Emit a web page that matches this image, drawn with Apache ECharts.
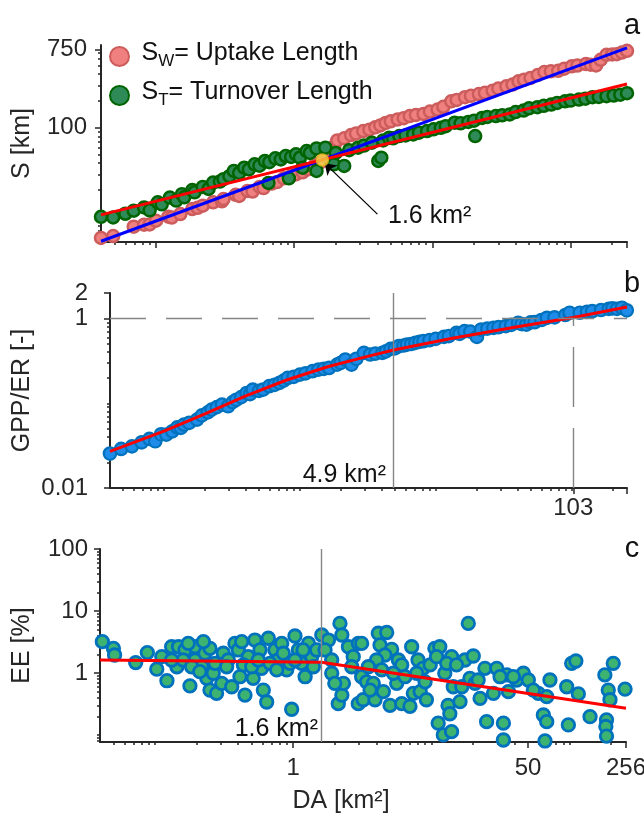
<!DOCTYPE html>
<html>
<head>
<meta charset="utf-8">
<script src="https://cdn.jsdelivr.net/npm/echarts@6/dist/echarts.min.js"></script>
<style>
  html, body { margin: 0; padding: 0; background: #fff; }
  #chart { width: 644px; height: 818px; }
</style>
</head>
<body>
<div id="chart"></div>
<script>
// shared DA axis (km2), log scale
const daRange = [0.04, 256];
const daMinor = [0.05,0.06,0.07,0.08,0.09,0.1,0.2,0.3,0.4,0.5,0.6,0.7,0.8,0.9,1,2,3,4,5,6,7,8,9,10,20,30,40,50,60,70,80,90,100,200];
const daTicksA = [0.1, 1, 10, 100, 256];
const daTicksB = [103, 256];
const daLabelsB = [103];
const daLabelsC = [1, 50, 256];

// panel a: S [km]
const sRange = [5.2, 850];
const sLabels = [100, 750];
const sMinor = [6,7,8,9,10,20,30,40,50,60,70,80,90,200,300,400,500,600,700];
// panel b: GPP/ER
const gRange = [0.01, 2];
const gLabels = [0.01, 1, 2];
const gMinor = [0.02,0.03,0.04,0.05,0.06,0.07,0.08,0.09,0.1,0.2,0.3,0.4,0.5,0.6,0.7,0.8,0.9];
// panel c: EE [%]
const eRange = [0.077, 100];
const eLabels = [1, 10, 100];
const eMinor = [0.08,0.09,0.1,0.2,0.3,0.4,0.5,0.6,0.7,0.8,0.9,2,3,4,5,6,7,8,9,20,30,40,50,60,70,80,90];

// S_W uptake length [DA, S]
const sw = [[0.040,5.77],[0.049,6.07],[0.069,7.72],[0.082,8.13],[0.09,8.2],[0.100,9.02],[0.123,10.0],[0.13,9.8],[0.150,10.7],[0.183,12.2],[0.2,12.6],[0.218,13.3],[0.259,14.5],[0.3,14.9],[0.308,15.8],[0.377,17.6],[0.4,17.1],[0.460,19.5],[0.5,19.2],[0.563,21.6],[0.6,21.0],[0.689,23.6],[0.75,24.5],[0.841,27.0],[0.95,28.5],[1.03,30.0],[1.15,31.5],[1.26,34.1],[1.4,37.5],[1.54,40.5],[1.75,48],[1.85,55],[1.95,62],[2.05,71.9],[2.3,76],[2.58,82.6],[2.8,86],[3.16,91.6],[3.5,95],[3.86,101],[4.2,106],[4.59,113],[5.0,118],[5.61,124],[6.2,128],[6.86,135],[7.6,139],[8.63,143],[9.6,152],[10.9,160],[12,172],[13.7,198],[15,205],[17.2,220],[19,228],[21.7,239],[24,247],[27.3,261],[30,275],[34.3,292],[38,305],[42,332],[46,345],[51.3,362],[58,392],[64.6,422],[72,430],[81.3,436],[90,460],[102,489],[112,500],[129,519],[140,510],[153,501],[165,580],[182,659],[200,665],[216,671],[235,700],[256,731]];
// S_T turnover length [DA, S]
const st = [[0.040,9.98],[0.049,9.81],[0.06,10.8],[0.069,11.7],[0.082,12.7],[0.09,11.8],[0.103,14.5],[0.11,13.8],[0.126,16.4],[0.14,15.2],[0.154,17.9],[0.16,16.5],[0.183,19.9],[0.19,18.8],[0.218,21.6],[0.24,20.5],[0.259,24.2],[0.29,24.8],[0.308,26.4],[0.34,28.5],[0.366,32.7],[0.40,31],[0.435,35.6],[0.47,34],[0.517,38.8],[0.56,37.5],[0.614,42.3],[0.651,24],[0.66,41],[0.730,45.3],[0.8,44],[0.868,48.1],[0.915,27],[0.95,47],[1.03,50.2],[1.1,46],[1.15,35.6],[1.23,54.7],[1.3,52],[1.45,58.6],[1.45,32.7],[1.68,59.6],[1.94,38.8],[2.0,52],[2.30,37.2],[2.5,56],[2.90,59.6],[3.2,63],[3.65,67.8],[4.06,42.3],[4.27,46.0],[4.4,72],[4.86,77.1],[5.2,76],[5.77,80.5],[6.4,82],[7.27,84.0],[8.0,88],[9.15,91.6],[10.2,96],[11.5,99.8],[12.5,104],[14.5,114],[16,112],[18.2,116],[20,120],[20.4,80.5],[22.9,129],[25,132],[28.8,135],[32,138],[36.3,141],[40,150],[45.7,156],[50,165],[57.5,170],[64,176],[72.4,182],[80,190],[91.2,198],[100,202],[115,207],[128,212],[144,220],[160,222],[182,226],[205,230],[229,235],[256,244]];
const swFit = [[0.04,5.3],[256,790]];
const stFit = [[0.04,10.5],[256,310]];
const crossing = [[1.6,43.5]];

// GPP/ER [DA, ratio]
const gpp = [[0.040,0.0255],[0.0483,0.0289],[0.058,0.031],[0.0684,0.0346],[0.078,0.038],[0.0861,0.0356],[0.095,0.043],[0.104,0.0427],[0.115,0.0467],[0.125,0.052],[0.133,0.0512],[0.14,0.056],[0.153,0.0586],[0.175,0.0641],[0.19,0.072],[0.21,0.078],[0.224,0.0842],[0.245,0.09],[0.267,0.0964],[0.296,0.0922],[0.32,0.103],[0.340,0.110],[0.37,0.118],[0.405,0.132],[0.43,0.128],[0.450,0.145],[0.5,0.14],[0.536,0.145],[0.595,0.159],[0.65,0.165],[0.708,0.174],[0.76,0.185],[0.814,0.199],[0.9,0.205],[1.00,0.218],[1.1,0.225],[1.24,0.239],[1.37,0.250],[1.5,0.255],[1.64,0.261],[1.88,0.286],[2.0,0.30],[2.16,0.328],[2.40,0.286],[2.6,0.335],[2.96,0.393],[3.29,0.376],[3.6,0.385],[4.05,0.393],[4.3,0.41],[4.65,0.438],[5.0,0.445],[5.35,0.471],[5.8,0.48],[6.15,0.493],[6.6,0.50],[7.08,0.516],[7.6,0.53],[8.13,0.540],[9.0,0.555],[10.0,0.575],[11.5,0.607],[12.5,0.62],[14.2,0.677],[15,0.66],[16.3,0.708],[18,0.70],[20.1,0.607],[21.6,0.741],[24,0.76],[26.6,0.776],[29,0.79],[32.8,0.812],[36,0.84],[40.4,0.889],[43,0.86],[46.5,0.849],[50,0.9],[53.5,0.905],[60,0.96],[65.9,1.02],[75,1.03],[90,1.1],[96.8,1.17],[115,1.17],[130,1.2],[142,1.22],[165,1.26],[188,1.30],[200,1.32],[216,1.30],[235,1.34],[255,1.25]];
const gppFit = [[0.04,0.027],[0.1,0.047],[0.2,0.075],[0.4,0.122],[0.8,0.188],[1.6,0.27],[3.2,0.36],[4.9,0.425],[13,0.58],[38,0.79],[103,1.03],[256,1.37]];

// EE [DA, %]
const ee = [[0.0416,3.2],[0.050,2.5],[0.051,1.95],[0.0725,1.47],[0.088,2.13],[0.103,1.15],[0.122,0.75],[0.132,2.65],[0.148,2.65],[0.144,1.26],[0.165,2.35],[0.179,0.62],[0.195,2.65],[0.195,1.62],[0.218,1.26],[0.230,2.08],[0.250,2.5],[0.237,0.82],[0.250,0.53],[0.279,0.47],[0.264,0.99],[0.304,0.68],[0.312,2.08],[0.339,1.62],[0.359,0.60],[0.379,3.0],[0.401,2.35],[0.412,0.87],[0.448,0.44],[0.473,1.83],[0.514,0.82],[0.528,3.4],[0.575,2.35],[0.591,1.19],[0.608,0.53],[0.643,0.34],[0.661,3.63],[0.738,2.35],[0.780,1.62],[0.826,3.0],[0.897,1.12],[0.975,0.26],[1.03,3.95],[1.09,2.35],[1.15,1.43],[1.22,0.87],[1.29,3.0],[1.36,1.83],[1.48,2.35],[1.61,4.1],[1.80,3.4],[1.90,0.99],[2.18,6.3],[2.25,4.1],[2.12,0.32],[2.25,0.44],[2.31,0.68],[2.51,2.65],[2.72,1.83],[2.96,3.0],[2.96,0.32],[3.13,0.87],
  [0.160,1.62],[0.184,1.26],[0.211,1.05],[0.272,1.43],[0.330,1.26],[0.436,1.35],[0.501,1.26],[0.559,1.62],[0.679,1.43],[0.760,1.12],[0.848,2.08],[0.948,1.43],[1.03,1.62],[1.18,2.35],[1.40,1.26],[1.70,2.35],[1.90,1.62],[2.00,0.68],[2.65,1.26],[0.112,1.83],[0.132,1.62],[0.174,3.0],[0.224,3.2],[0.424,3.2],
  [3.13,3.0],[3.21,0.37],[3.40,0.72],[4.13,4.37],[4.75,4.5],[4.25,2.83],[5.16,2.41],[4.61,1.95],[4.01,1.62],[3.80,0.68],[3.91,0.37],[4.49,0.50],[5.02,0.30],[5.61,0.68],[5.77,1.62],[6.10,1.35],[6.10,0.32],[7.0,0.29],[7.2,2.65],[7.4,0.47],[8.0,1.62],[8.3,0.50],[8.7,1.19],[9.2,0.37],[9.8,1.35],[10.6,2.5],[11.5,2.65],[11.2,0.155],[12.2,0.10],[12.5,0.99],[13.2,0.30],[13.6,0.22],[14.0,0.113],[14.0,1.83],[14.4,0.60],[16.1,0.345],[16.6,0.60],[17.5,1.62],[18.5,6.3],[20.1,1.88],[19.0,0.82],[22.5,0.39],[24.4,1.19],[25.1,0.164],[28.1,0.47],[29.7,1.19],[33.2,0.155],[33.2,0.083],[35.1,0.93],[36.1,0.50],[41.4,0.77],[46.3,0.99],[50.3,0.77],[59.4,0.47],[64.6,0.21],[68.3,0.164],[66.4,0.08],[68.3,0.415],[72.1,0.77],[98,0.145],[95.3,0.60],[103.5,1.43],[111,1.56],[115.7,0.46],[140.6,0.197],[180,0.93],[185,0.175],[183,0.137],[185,0.096],[190.5,0.53],[196,0.37],[207,1.43],[252,0.55],
  [3.50,1.26],[3.60,0.53],[4.37,1.12],[5.31,0.99],[6.44,0.87],[7.83,0.99],[9.0,0.72],[10.9,1.83],[12.9,1.43],[15.2,1.35],[20.7,0.68],[21.8,0.77],[31.4,0.87],[39.2,0.87],[54.7,0.53]];
const eeFit = [[0.04,1.62],[1.6,1.49],[256,0.27]];

const FONT = "'Liberation Sans', Arial, Helvetica, sans-serif";
const INK = '#262626';
const fmt = v => String(+Number(v).toPrecision(3));

function mainX(grid, ticks, labels, margin) {
  return {
    type: 'log', gridIndex: grid, position: 'bottom', min: daRange[0], max: daRange[1],
    axisLine: { show: true, onZero: false, lineStyle: { color: INK, width: 2 } },
    axisTick: { show: true, length: 6, customValues: ticks, lineStyle: { color: INK, width: 1.5 } },
    axisLabel: { show: labels.length > 0, customValues: labels, margin: margin, fontSize: 24, fontFamily: FONT, color: INK, formatter: fmt },
    splitLine: { show: false }
  };
}
function minorX(grid) {
  return {
    type: 'log', gridIndex: grid, position: 'bottom', min: daRange[0], max: daRange[1],
    axisLine: { show: false, onZero: false },
    axisTick: { show: true, length: 3, customValues: daMinor, lineStyle: { color: INK, width: 1.5 } },
    axisLabel: { show: false }, splitLine: { show: false }
  };
}
function mainY(grid, range, labels, name, gap, margin) {
  return {
    type: 'log', gridIndex: grid, position: 'left', min: range[0], max: range[1],
    name: name, nameLocation: 'middle', nameGap: gap, nameMoveOverlap: false,
    nameTextStyle: { fontSize: 25, fontFamily: FONT, color: INK },
    axisLine: { show: true, onZero: false, lineStyle: { color: INK, width: 2 } },
    axisTick: { show: true, length: 6, customValues: labels, lineStyle: { color: INK, width: 1.5 } },
    axisLabel: { customValues: labels, margin: margin, fontSize: 24, fontFamily: FONT, color: INK, formatter: fmt },
    splitLine: { show: false }
  };
}
function minorY(grid, range, ticks) {
  return {
    type: 'log', gridIndex: grid, position: 'left', min: range[0], max: range[1],
    axisLine: { show: false, onZero: false },
    axisTick: { show: true, length: 3, customValues: ticks, lineStyle: { color: INK, width: 1.5 } },
    axisLabel: { show: false }, splitLine: { show: false }
  };
}

const refLine = (type) => ({ color: '#858585', width: 1.4, type: type });

const chart = echarts.init(document.getElementById('chart'), null, { renderer: 'canvas' });
chart.setOption({
  animation: false,
  backgroundColor: '#fff',
  grid: [
    { left: 101, right: 17, top: 45, height: 197, outerBoundsMode: 'none' },
    { left: 110, right: 17, top: 293, height: 195, outerBoundsMode: 'none' },
    { left: 100, right: 18, top: 549, height: 193, outerBoundsMode: 'none' }
  ],
  xAxis: [
    mainX(0, daTicksA, [], 10), minorX(0),
    mainX(1, daTicksB, daLabelsB, 8), minorX(1),
    mainX(2, daLabelsC, daLabelsC, 14), minorX(2)
  ],
  yAxis: [
    mainY(0, sRange, sLabels, 'S [km]', 66, 14), minorY(0, sRange, sMinor),
    mainY(1, gRange, gLabels, 'GPP/ER [-]', 75, 22), minorY(1, gRange, gMinor),
    mainY(2, eRange, eLabels, 'EE [%]', 65, 12), minorY(2, eRange, eMinor)
  ],
  legend: {
    data: ['SW', 'ST'], orient: 'vertical', left: 104, top: 36,
    itemWidth: 34, itemHeight: 19, itemGap: 8,
    formatter: name => name === 'SW' ? '{s|S}{sub|W}{t|= Uptake Length}' : '{s|S}{sub|T}{t|= Turnover Length}',
    textStyle: {
      color: '#111', fontFamily: FONT, fontSize: 25,
      rich: {
        s: { fontSize: 25, fontFamily: FONT, color: '#111', lineHeight: 26, padding: [0, 0, 6, 0] },
        sub: { fontSize: 17, fontFamily: FONT, color: '#111', lineHeight: 17, verticalAlign: 'bottom' },
        t: { fontSize: 25, fontFamily: FONT, color: '#111', lineHeight: 26, padding: [0, 0, 6, 0] }
      }
    }
  },
  series: [
    { name: 'SW', type: 'scatter', xAxisIndex: 0, yAxisIndex: 0, data: sw, clip: false, symbolSize: 12,
      itemStyle: { color: '#F08080', borderColor: '#CD5C5C', borderWidth: 2.5, opacity: 1 } },
    { name: 'ST', type: 'scatter', xAxisIndex: 0, yAxisIndex: 0, data: st, clip: false, symbolSize: 12,
      itemStyle: { color: '#2E8B57', borderColor: '#006400', borderWidth: 2.5, opacity: 1 } },
    { type: 'line', xAxisIndex: 0, yAxisIndex: 0, data: swFit, showSymbol: false, clip: false,
      lineStyle: { color: '#0000FF', width: 3 } },
    { type: 'line', xAxisIndex: 0, yAxisIndex: 0, data: stFit, showSymbol: false, clip: false,
      lineStyle: { color: '#FF0000', width: 3 } },
    { type: 'scatter', xAxisIndex: 0, yAxisIndex: 0, data: crossing, symbolSize: 12, z: 5,
      itemStyle: { color: '#F5D742', borderColor: '#E2B41E', borderWidth: 1.5 },
      markLine: {
        silent: true, symbol: ['none', 'arrow'], symbolSize: 11, label: { show: false },
        lineStyle: { color: '#000', width: 1.3, type: 'solid' },
        data: [[{ coord: [4.0, 10.7] }, { coord: [1.66, 40] }]]
      } },

    { type: 'scatter', xAxisIndex: 2, yAxisIndex: 2, data: gpp, clip: false, symbolSize: 12.5,
      itemStyle: { color: '#1E8CE8', borderColor: '#0072BD', borderWidth: 2.2, opacity: 1 } },
    { type: 'line', xAxisIndex: 2, yAxisIndex: 2, data: gppFit, showSymbol: false, clip: false, z: 4,
      lineStyle: { color: '#FF0000', width: 3 },
      markLine: {
        silent: true, symbol: 'none', label: { show: false },
        data: [
          [{ coord: [daRange[0], 1], lineStyle: refLine([36, 20]) }, { coord: [daRange[1], 1] }],
          [{ coord: [4.9, gRange[0]], lineStyle: refLine('solid') }, { coord: [4.9, gRange[1]] }],
          [{ coord: [103, gRange[0]], lineStyle: refLine([60, 21]) }, { coord: [103, 1] }]
        ]
      } },

    { type: 'scatter', xAxisIndex: 4, yAxisIndex: 4, data: ee, clip: false, symbolSize: 12.5,
      itemStyle: { color: '#3CB371', borderColor: '#0072BD', borderWidth: 2.8, opacity: 1 } },
    { type: 'line', xAxisIndex: 4, yAxisIndex: 4, data: eeFit, showSymbol: false, clip: false, z: 4,
      lineStyle: { color: '#FF0000', width: 3 },
      markLine: {
        silent: true, symbol: 'none', label: { show: false },
        data: [[{ coord: [1.6, eRange[0]], lineStyle: refLine('solid') }, { coord: [1.6, eRange[1]] }]]
      } }
  ],
  graphic: [
    { type: 'text', x: 632, y: 26, style: { text: 'a', fontSize: 29, fontFamily: FONT, fill: '#111', align: 'center', verticalAlign: 'middle' } },
    { type: 'text', x: 632, y: 284, style: { text: 'b', fontSize: 29, fontFamily: FONT, fill: '#111', align: 'center', verticalAlign: 'middle' } },
    { type: 'text', x: 632, y: 549, style: { text: 'c', fontSize: 29, fontFamily: FONT, fill: '#111', align: 'center', verticalAlign: 'middle' } },
    { type: 'text', x: 388, y: 216, style: { text: '1.6 km²', fontSize: 25, fontFamily: FONT, fill: '#111', align: 'left', verticalAlign: 'middle' } },
    { type: 'text', x: 386, y: 475, style: { text: '4.9 km²', fontSize: 25, fontFamily: FONT, fill: '#111', align: 'right', verticalAlign: 'middle' } },
    { type: 'text', x: 318, y: 729, style: { text: '1.6 km²', fontSize: 25, fontFamily: FONT, fill: '#111', align: 'right', verticalAlign: 'middle' } },
    { type: 'text', x: 341, y: 801, style: { text: 'DA [km²]', fontSize: 25, fontFamily: FONT, fill: INK, align: 'center', verticalAlign: 'middle' } }
  ]
});
</script>
</body>
</html>
